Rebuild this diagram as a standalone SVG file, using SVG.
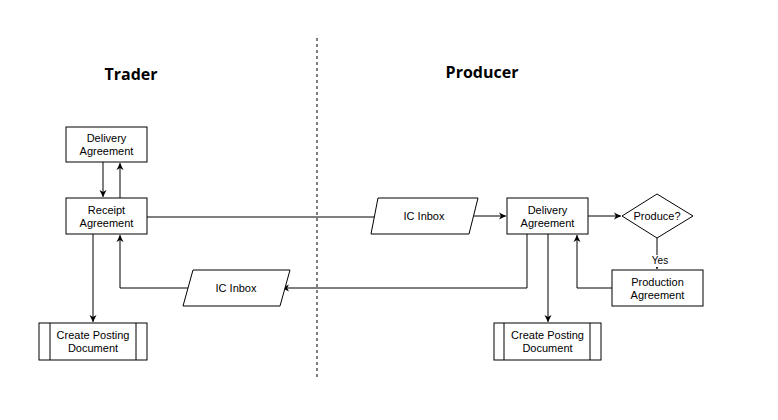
<svg xmlns="http://www.w3.org/2000/svg" width="778" height="420" viewBox="0 0 778 420">
<style>
.s{fill:#fff;stroke:#000;stroke-width:1}
.t{font-family:"Liberation Sans",Arial,sans-serif;font-size:11px;text-anchor:middle;fill:#000}
.h{font-family:"Open Sans","Liberation Sans",sans-serif;font-size:16px;font-weight:bold;text-anchor:middle}
.c{fill:none;stroke:#000;stroke-width:1}
</style>
<defs><marker id="a" markerWidth="8" markerHeight="8" refX="7" refY="4" orient="auto" markerUnits="userSpaceOnUse"><path d="M0,0.5 L7,4 L0,7.5 L2,4 Z" fill="#000"/></marker></defs>
<rect width="778" height="420" fill="#fff"/>
<line x1="317" y1="38" x2="317" y2="378" stroke="#000" stroke-dasharray="3,3"/>
<text class="h" x="131" y="80">Trader</text>
<text class="h" x="482" y="78">Producer</text>
<g id="connectors">
<path class="c" d="M103,162 V197" marker-end="url(#a)"/>
<path class="c" d="M120,198 V163" marker-end="url(#a)"/>
<path class="c" d="M93,234 V322" marker-end="url(#a)"/>
<path class="c" d="M147,217 H382" marker-end="url(#a)"/>
<path class="c" d="M188,288 H120 V235" marker-end="url(#a)"/>
<path class="c" d="M474,216 H506" marker-end="url(#a)"/>
<path class="c" d="M588,216 H621" marker-end="url(#a)"/>
<path class="c" d="M657,238 V269" marker-end="url(#a)"/>
<path class="c" d="M527,234 V288 H282" marker-end="url(#a)"/>
<path class="c" d="M548,234 V322" marker-end="url(#a)"/>
<path class="c" d="M612,288 H577 V235" marker-end="url(#a)"/>
<rect x="648" y="255" width="22" height="12" fill="#fff"/>
<text class="t" x="660" y="264" style="font-size:10px">Yes</text>
</g>
<g id="trader-delivery"><rect class="s" x="66" y="127" width="81" height="35"/><text class="t" x="106.5" y="142">Delivery</text><text class="t" x="106.5" y="155">Agreement</text></g>
<g id="receipt"><rect class="s" x="66" y="198" width="81" height="36"/><text class="t" x="106.5" y="214">Receipt</text><text class="t" x="106.5" y="227">Agreement</text></g>
<g id="trader-posting"><rect class="s" x="39" y="323" width="108" height="37"/><path class="c" d="M50,323V360M136,323V360"/><text class="t" x="93" y="339">Create Posting</text><text class="t" x="93" y="352">Document</text></g>
<g id="trader-inbox"><path class="s" d="M193,270H290L280,306H183Z"/><text class="t" x="236" y="292">IC Inbox</text></g>
<g id="producer-inbox"><path class="s" d="M378,198H478L469,234H371Z"/><text class="t" x="424" y="220">IC Inbox</text></g>
<g id="producer-delivery"><rect class="s" x="507" y="198" width="81" height="36"/><text class="t" x="547.5" y="214">Delivery</text><text class="t" x="547.5" y="227">Agreement</text></g>
<g id="produce"><path class="s" d="M657,194L693,216L657,238L622,216Z"/><text class="t" x="657" y="220">Produce?</text></g>
<g id="production"><rect class="s" x="612" y="270" width="91" height="36"/><text class="t" x="657.5" y="286">Production</text><text class="t" x="657.5" y="299">Agreement</text></g>
<g id="producer-posting"><rect class="s" x="494" y="323" width="107" height="37"/><path class="c" d="M504,323V360M590,323V360"/><text class="t" x="547.5" y="339">Create Posting</text><text class="t" x="547.5" y="352">Document</text></g>
</svg>
